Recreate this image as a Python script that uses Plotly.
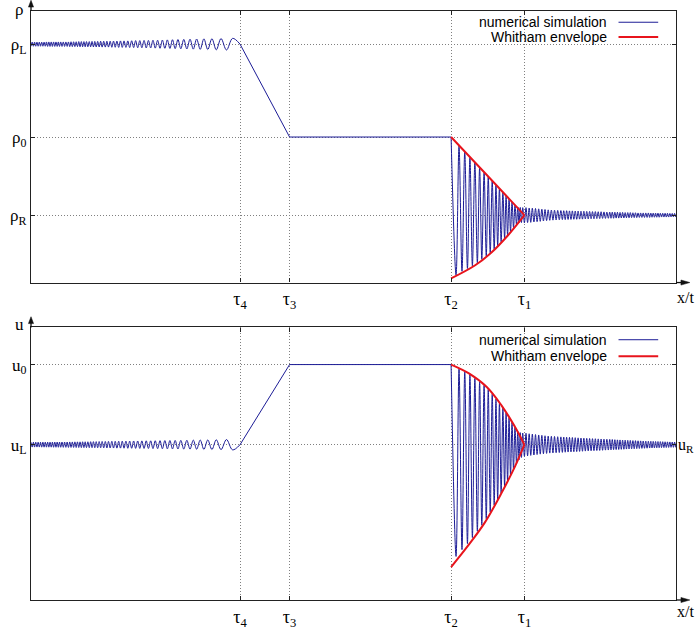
import plotly.graph_objects as go

# ---------------- levels, ticks, ranges ----------------
rho_L, rho_0, rho_R = 2.0, 1.457, 1.0
u_L, u_0, u_R = 0.0, 1.0, 0.0
tau_pos = [211, 261, 424, 498]
tau_text = ["τ<sub>4</sub>", "τ<sub>3</sub>", "τ<sub>2</sub>", "τ<sub>1</sub>"]
rho_tick_vals = [rho_R, rho_0, rho_L]
rho_tick_text = ["ρ<sub>R</sub>", "ρ<sub>0</sub>", "ρ<sub>L</sub>"]
u_tick_vals = [u_L, u_0]
u_tick_text = ["u<sub>L</sub>", "u<sub>0</sub>"]
x_range = [0, 651]
rho_range = [0.606, 2.194]
u_range = [-1.939, 1.463]

# ---------------- left dispersive tail (extrema positions) ----------------
tail_left_x = [
    0.0, 1.2, 2.4, 3.6, 4.8, 6.0, 7.2, 8.4, 9.6, 10.8, 12.0, 13.2, 14.4, 15.6, 16.8, 18.0,
    19.2, 20.4, 21.6, 22.8, 24.0, 25.2, 26.4, 27.6, 28.8, 30.0,
    31.3, 32.6, 33.9, 35.2, 36.5, 37.8, 39.1, 40.4, 41.7, 43.0, 44.3, 45.6, 46.9, 48.2,
    49.5, 50.8, 52.1, 53.4, 54.7, 56.0,
    57.4, 58.8, 60.2, 61.6, 63.0, 64.4, 65.8,
    67.3, 68.8, 70.3, 71.8,
    73.4, 75.0, 76.6, 78.2,
    79.9, 81.6, 83.3, 85.0, 86.7,
    88.5, 90.3, 92.1, 93.9,
    95.8, 97.7, 99.6,
    101.6, 103.6, 105.6,
    107.7, 109.8, 111.9,
    114.1, 116.3, 118.5,
    120.8, 123.1, 125.4,
    127.8, 130.2, 132.6,
    135.1, 137.6,
    140.2, 142.8,
    145.5, 148.3, 151.2, 154.2,
    157.3, 160.5, 163.8, 167.2, 170.8, 174.5,
    178.4, 182.6, 187.0, 191.8, 197.3, 203.5,
]
rho_left_amp = [
    0.012, 0.012, 0.012, 0.012, 0.012, 0.012, 0.012, 0.012, 0.012, 0.012, 0.012, 0.012, 0.012,
    0.013, 0.013, 0.013, 0.013, 0.013, 0.013, 0.013, 0.013, 0.013, 0.013, 0.013, 0.013, 0.013,
    0.013, 0.013, 0.013, 0.013, 0.013, 0.013,
    0.014, 0.014, 0.014, 0.014, 0.014, 0.014, 0.014,
    0.015, 0.015, 0.015, 0.015, 0.015, 0.015, 0.015,
    0.015, 0.015, 0.015, 0.016, 0.016, 0.016, 0.016,
    0.016, 0.016, 0.017, 0.017, 0.017, 0.017, 0.017, 0.017,
    0.017, 0.018, 0.018, 0.018, 0.018, 0.019, 0.019, 0.019, 0.019,
    0.019, 0.019, 0.020, 0.020, 0.020, 0.021,
    0.021, 0.021, 0.021, 0.022, 0.022, 0.022,
    0.022, 0.023, 0.023, 0.023, 0.024, 0.024,
    0.024, 0.025, 0.025, 0.026,
    0.026, 0.027, 0.027, 0.028,
    0.028, 0.029, 0.029, 0.030, 0.030, 0.031,
    0.031, 0.032, 0.033, 0.033, 0.034, 0.034,
]
u_left_amp = [
    0.030, 0.030, 0.030, 0.030, 0.030, 0.030, 0.030, 0.030, 0.030,
    0.031, 0.031, 0.031, 0.031, 0.031, 0.031, 0.031, 0.031, 0.031,
    0.032, 0.032, 0.032, 0.032, 0.032, 0.032, 0.032, 0.032,
    0.033, 0.033, 0.033, 0.033, 0.033, 0.034, 0.034, 0.034, 0.034, 0.034,
    0.035, 0.035, 0.035, 0.035, 0.035, 0.036, 0.036, 0.036, 0.036, 0.036,
    0.036, 0.037, 0.037, 0.037, 0.038, 0.038, 0.038,
    0.039, 0.039, 0.039, 0.040, 0.040, 0.040, 0.041, 0.041,
    0.041, 0.042, 0.042, 0.042, 0.043, 0.043, 0.043, 0.044, 0.044,
    0.044, 0.045, 0.045, 0.045, 0.046, 0.046,
    0.046, 0.047, 0.047, 0.047, 0.048, 0.048,
    0.048, 0.049, 0.049, 0.050, 0.050, 0.051,
    0.051, 0.052, 0.052, 0.053,
    0.053, 0.054, 0.054, 0.055,
    0.055, 0.056, 0.057, 0.057, 0.058, 0.059,
    0.059, 0.060, 0.061, 0.062, 0.064, 0.065,
]

# ---------------- rarefaction fan + plateau ----------------
rare_x = [211, 236, 261, 424]
rho_rare = [2.0, 1.725, 1.457, 1.457]
u_rare = [0.0, 0.5, 1.0, 1.0]

# ---------------- dispersive shock wave (trough / crest alternating) ----------------
dsw_x = [429.0, 432.0, 435.0, 437.8, 440.5, 443.0, 445.5, 448.0, 450.5, 452.8, 455.0, 457.3,
         459.5, 461.5, 463.5, 465.5, 467.5, 469.3, 471.0, 472.8, 474.5, 476.3, 478.0, 479.5,
         481.0, 482.5, 484.0, 485.5, 487.0, 488.5, 490.0, 491.3, 492.5, 493.8, 495.0, 496.3]
rho_dsw = [0.650, 1.405, 0.672, 1.370, 0.688, 1.338, 0.704, 1.307, 0.722, 1.277, 0.742, 1.249,
           0.762, 1.223, 0.780, 1.199, 0.802, 1.175, 0.823, 1.154, 0.844, 1.132, 0.866, 1.113,
           0.884, 1.095, 0.905, 1.077, 0.927, 1.058, 0.945, 1.048, 0.955, 1.045, 0.957, 1.044]
u_dsw = [-1.395, 0.945, -1.31, 0.91, -1.235, 0.875, -1.16, 0.828, -1.08, 0.783, -1.005, 0.74,
         -0.925, 0.69, -0.84, 0.63, -0.755, 0.57, -0.68, 0.515, -0.605, 0.455, -0.52, 0.395,
         -0.45, 0.335, -0.38, 0.28, -0.31, 0.22, -0.24, 0.165, -0.19, 0.15, -0.16, 0.145]

# ---------------- right tail (extrema positions) ----------------
tail_right_x = [
    498.0, 499.6, 501.2, 502.8, 504.4, 506.0, 507.6, 509.2, 510.8, 512.4, 514.0, 515.6,
    517.2, 518.8, 520.4, 522.0, 523.6, 525.2, 526.8, 528.4, 530.0, 531.6, 533.2, 534.8,
    536.3, 537.7, 539.2, 540.6, 542.1, 543.5, 545.0, 546.4, 547.9, 549.3, 550.8, 552.2,
    553.7, 555.1, 556.6, 558.0, 559.5, 560.9, 562.4, 563.8, 565.3, 566.7, 568.2, 569.6,
    571.1, 572.5, 574.0, 575.4, 576.9, 578.3, 579.8, 581.2, 582.7, 584.1,
    585.4, 586.7, 588.0, 589.3, 590.6, 591.9, 593.2, 594.5, 595.8, 597.1, 598.4, 599.7,
    601.0, 602.3, 603.6, 604.9, 606.2, 607.5, 608.8, 610.1, 611.4, 612.7, 614.0, 615.3,
    616.6, 617.9, 619.2, 620.5, 621.8, 623.1, 624.4,
    625.6, 626.8, 628.0, 629.2, 630.4, 631.6, 632.8, 634.0, 635.2, 636.4, 637.6, 638.8,
    640.0, 641.2, 642.4, 643.6, 644.8, 646.0, 647.2, 648.4, 649.6, 650.8,
]
rho_right_amp = [
    0.045, 0.044, 0.043, 0.042, 0.042, 0.041, 0.040, 0.039, 0.038, 0.037, 0.036, 0.035,
    0.034, 0.033, 0.032, 0.031, 0.030, 0.030, 0.029, 0.029, 0.028, 0.028, 0.027, 0.027,
    0.026, 0.026, 0.026, 0.026, 0.025, 0.025, 0.025, 0.025, 0.024, 0.024, 0.024, 0.024,
    0.023, 0.023, 0.023, 0.023, 0.022, 0.022, 0.022, 0.022, 0.021, 0.021, 0.021, 0.021,
    0.020, 0.020, 0.020, 0.020, 0.019, 0.019, 0.019, 0.018, 0.018, 0.018,
    0.018, 0.018, 0.018, 0.017, 0.017, 0.017, 0.017, 0.016, 0.016, 0.016, 0.016, 0.015,
    0.015, 0.015, 0.015, 0.015, 0.014, 0.014, 0.014, 0.014, 0.014, 0.013, 0.013, 0.013,
    0.013, 0.013, 0.013, 0.013, 0.013, 0.013, 0.013,
    0.012, 0.012, 0.012, 0.012, 0.012, 0.012, 0.012, 0.012, 0.011, 0.011, 0.011, 0.011,
    0.011, 0.011, 0.011, 0.011, 0.010, 0.010, 0.010, 0.010, 0.010, 0.010,
]
u_right_amp = [
    0.145, 0.142, 0.139, 0.136, 0.134, 0.131, 0.129, 0.126, 0.123, 0.121, 0.118, 0.116,
    0.113, 0.111, 0.109, 0.107, 0.105, 0.104, 0.103, 0.102, 0.100, 0.099, 0.098, 0.097,
    0.096, 0.095, 0.094, 0.093, 0.092, 0.091, 0.090, 0.089, 0.088, 0.087, 0.086, 0.085,
    0.084, 0.083, 0.082, 0.081, 0.080, 0.079, 0.078, 0.077, 0.076, 0.075, 0.075, 0.074,
    0.073, 0.072, 0.072, 0.071, 0.070, 0.069, 0.068, 0.068, 0.067, 0.066,
    0.065, 0.064, 0.063, 0.062, 0.061, 0.060, 0.060, 0.059, 0.058, 0.057, 0.057, 0.056,
    0.055, 0.054, 0.054, 0.053, 0.052, 0.051, 0.051, 0.050, 0.049, 0.048, 0.048, 0.047,
    0.046, 0.046, 0.045, 0.044, 0.044, 0.043, 0.042,
    0.042, 0.041, 0.041, 0.040, 0.040, 0.039, 0.039, 0.038, 0.038, 0.037, 0.037, 0.036,
    0.036, 0.035, 0.035, 0.034, 0.034, 0.033, 0.033, 0.033, 0.032, 0.032,
]

# ---------------- Whitham envelopes ----------------
rho_env_up_x = [424, 461, 498]
rho_env_up = [1.457, 1.229, 1.0]
rho_env_lo_x = [424, 448.3, 465, 481.7, 498]
rho_env_lo = [0.630, 0.707, 0.783, 0.884, 1.0]
u_env_up_x = [424, 442, 460, 475, 488, 498]
u_env_up = [1.0, 0.89, 0.72, 0.488, 0.232, 0.0]
u_env_lo_x = [424, 441.7, 458.3, 475, 488.3, 498]
u_env_lo = [-1.528, -1.252, -0.967, -0.601, -0.277, 0.0]

for a, b, name in [(tail_left_x, rho_left_amp, "rho_left"), (tail_left_x, u_left_amp, "u_left"),
                   (tail_right_x, rho_right_amp, "rho_right"), (tail_right_x, u_right_amp, "u_right"),
                   (dsw_x, rho_dsw, "rho_dsw"), (dsw_x, u_dsw, "u_dsw")]:
    if len(a) != len(b):
        raise ValueError(f"{name}: {len(a)} vs {len(b)}")

# ---------------- assemble series ----------------
rho_left = [rho_L + (a if i % 2 else -a) for i, a in enumerate(rho_left_amp)]
u_left = [u_L + (-a if i % 2 else a) for i, a in enumerate(u_left_amp)]
rho_right = [rho_R + (a if i % 2 else -a) for i, a in enumerate(rho_right_amp)]
u_right = [u_R + (a if i % 2 else -a) for i, a in enumerate(u_right_amp)]

BLUE = "#1c1c96"
RED = "#e8141c"
SERIF = "Liberation Serif, Times New Roman, serif"
SANS = "Liberation Sans, Arial, sans-serif"

fig = go.Figure()

def add_panel(xa, ya, left_y, rare_y, first_y, dsw_y, right_y, end_y, start_y,
              env_up_x, env_up, env_lo_x, env_lo):
    fig.add_trace(go.Scatter(x=tail_left_x + [rare_x[0]], y=left_y + [start_y], mode="lines",
                             line=dict(color=BLUE, width=1, shape="spline"),
                             xaxis=xa, yaxis=ya, showlegend=False, hoverinfo="skip"))
    fig.add_trace(go.Scatter(x=rare_x, y=rare_y, mode="lines", line=dict(color=BLUE, width=1),
                             xaxis=xa, yaxis=ya, showlegend=False, hoverinfo="skip"))
    fig.add_trace(go.Scatter(x=[rare_x[-1]] + dsw_x + tail_right_x + [x_range[1]],
                             y=[first_y] + dsw_y + right_y + [end_y], mode="lines",
                             line=dict(color=BLUE, width=1, shape="spline"),
                             xaxis=xa, yaxis=ya, showlegend=False, hoverinfo="skip"))
    fig.add_trace(go.Scatter(x=env_up_x, y=env_up, mode="lines",
                             line=dict(color=RED, width=2, shape="spline"),
                             xaxis=xa, yaxis=ya, showlegend=False, hoverinfo="skip"))
    fig.add_trace(go.Scatter(x=env_lo_x, y=env_lo, mode="lines",
                             line=dict(color=RED, width=2, shape="spline"),
                             xaxis=xa, yaxis=ya, showlegend=False, hoverinfo="skip"))

add_panel("x", "y", rho_left, rho_rare, rho_0, rho_dsw, rho_right, rho_R, rho_L,
          rho_env_up_x, rho_env_up, rho_env_lo_x, rho_env_lo)
add_panel("x2", "y2", u_left, u_rare, u_0, u_dsw, u_right, u_R, u_L,
          u_env_up_x, u_env_up, u_env_lo_x, u_env_lo)

axis_common = dict(showline=True, linecolor="#222", linewidth=1.3, mirror="ticks",
                   ticks="inside", ticklen=4, tickcolor="#222", zeroline=False,
                   showgrid=True, gridcolor="#808080", griddash="1px,2px", gridwidth=1,
                   tickfont=dict(family=SERIF, size=18, color="black"))

top_dom = [0.53897, 1.0]
bot_dom = [0.0, 0.46269]
yfont = dict(family=SERIF, size=17, color="black")

fig.update_layout(
    width=699, height=640,
    margin=dict(l=25, r=23, t=10, b=27),
    paper_bgcolor="white", plot_bgcolor="white",
    xaxis=dict(axis_common, range=x_range, tickvals=tau_pos, ticktext=tau_text,
               anchor="y", domain=[0, 1]),
    yaxis=dict(axis_common, range=rho_range, tickvals=rho_tick_vals, ticktext=rho_tick_text,
               anchor="x", domain=top_dom, tickfont=yfont),
    xaxis2=dict(axis_common, range=x_range, tickvals=tau_pos, ticktext=tau_text,
                anchor="y2", domain=[0, 1]),
    yaxis2=dict(axis_common, range=u_range, tickvals=u_tick_vals, ticktext=u_tick_text,
                anchor="x2", domain=bot_dom, tickfont=yfont),
)

ann = []
def label(x, y, text, size, font=SERIF, xanchor="center", yref="paper", yshift=0):
    ann.append(dict(x=x, y=y, xref="paper", yref=yref, text=text, showarrow=False,
                    xanchor=xanchor, yanchor="middle", yshift=yshift,
                    font=dict(family=font, size=size, color="black")))

label(-0.018, 1.0033, "ρ", 17)
label(-0.018, 0.4677, "u", 17)
label(1.0154, 0.5141, "x/t", 16)
label(1.0154, -0.0199, "x/t", 16)
label(1.0154, u_R, "u<sub>R</sub>", 16, yref="y2", yshift=-1)
label(0.8955, 0.9809, "numerical simulation", 14, font=SANS, xanchor="right")
label(0.8955, 0.9560, "Whitham envelope", 14, font=SANS, xanchor="right")
label(0.8955, 0.4419, "numerical simulation", 14, font=SANS, xanchor="right")
label(0.8955, 0.4138, "Whitham envelope", 14, font=SANS, xanchor="right")
fig.update_layout(annotations=ann)

# ---------------- decorations: axis arrows and legend samples ----------------
W_PLOT, H_PLOT = 651.0, 603.0
def px(dx):
    return dx / W_PLOT
def py(dy):
    return dy / H_PLOT

shapes = []
def vert_arrow(y_base):
    # stem from box edge upward then filled head
    shapes.append(dict(type="line", xref="paper", yref="paper", x0=0, x1=0,
                       y0=y_base, y1=y_base + py(5), line=dict(color="#111", width=1.3)))
    tip = y_base + py(11)
    shapes.append(dict(type="path", xref="paper", yref="paper",
                       path=f"M {-px(2.6)} {y_base + py(4)} L {px(2.6)} {y_base + py(4)} L 0 {tip} Z",
                       fillcolor="#111", line=dict(color="#111", width=0.5)))

def horiz_arrow(y_base):
    shapes.append(dict(type="line", xref="paper", yref="paper", x0=1, x1=1 + px(6),
                       y0=y_base, y1=y_base, line=dict(color="#111", width=1.3)))
    shapes.append(dict(type="path", xref="paper", yref="paper",
                       path=f"M {1 + px(5)} {y_base - py(2.6)} L {1 + px(5)} {y_base + py(2.6)} "
                            f"L {1 + px(14)} {y_base} Z",
                       fillcolor="#111", line=dict(color="#111", width=0.5)))

vert_arrow(top_dom[1])
vert_arrow(bot_dom[1])
horiz_arrow(top_dom[0])
horiz_arrow(bot_dom[0])

for yy, col, w in [(0.9809, BLUE, 1), (0.9560, RED, 2), (0.4419, BLUE, 1), (0.4138, RED, 2)]:
    shapes.append(dict(type="line", xref="paper", yref="paper", x0=0.9109, x1=0.9724,
                       y0=yy, y1=yy, line=dict(color=col, width=w)))
fig.update_layout(shapes=shapes)

fig.write_html("out.html")
